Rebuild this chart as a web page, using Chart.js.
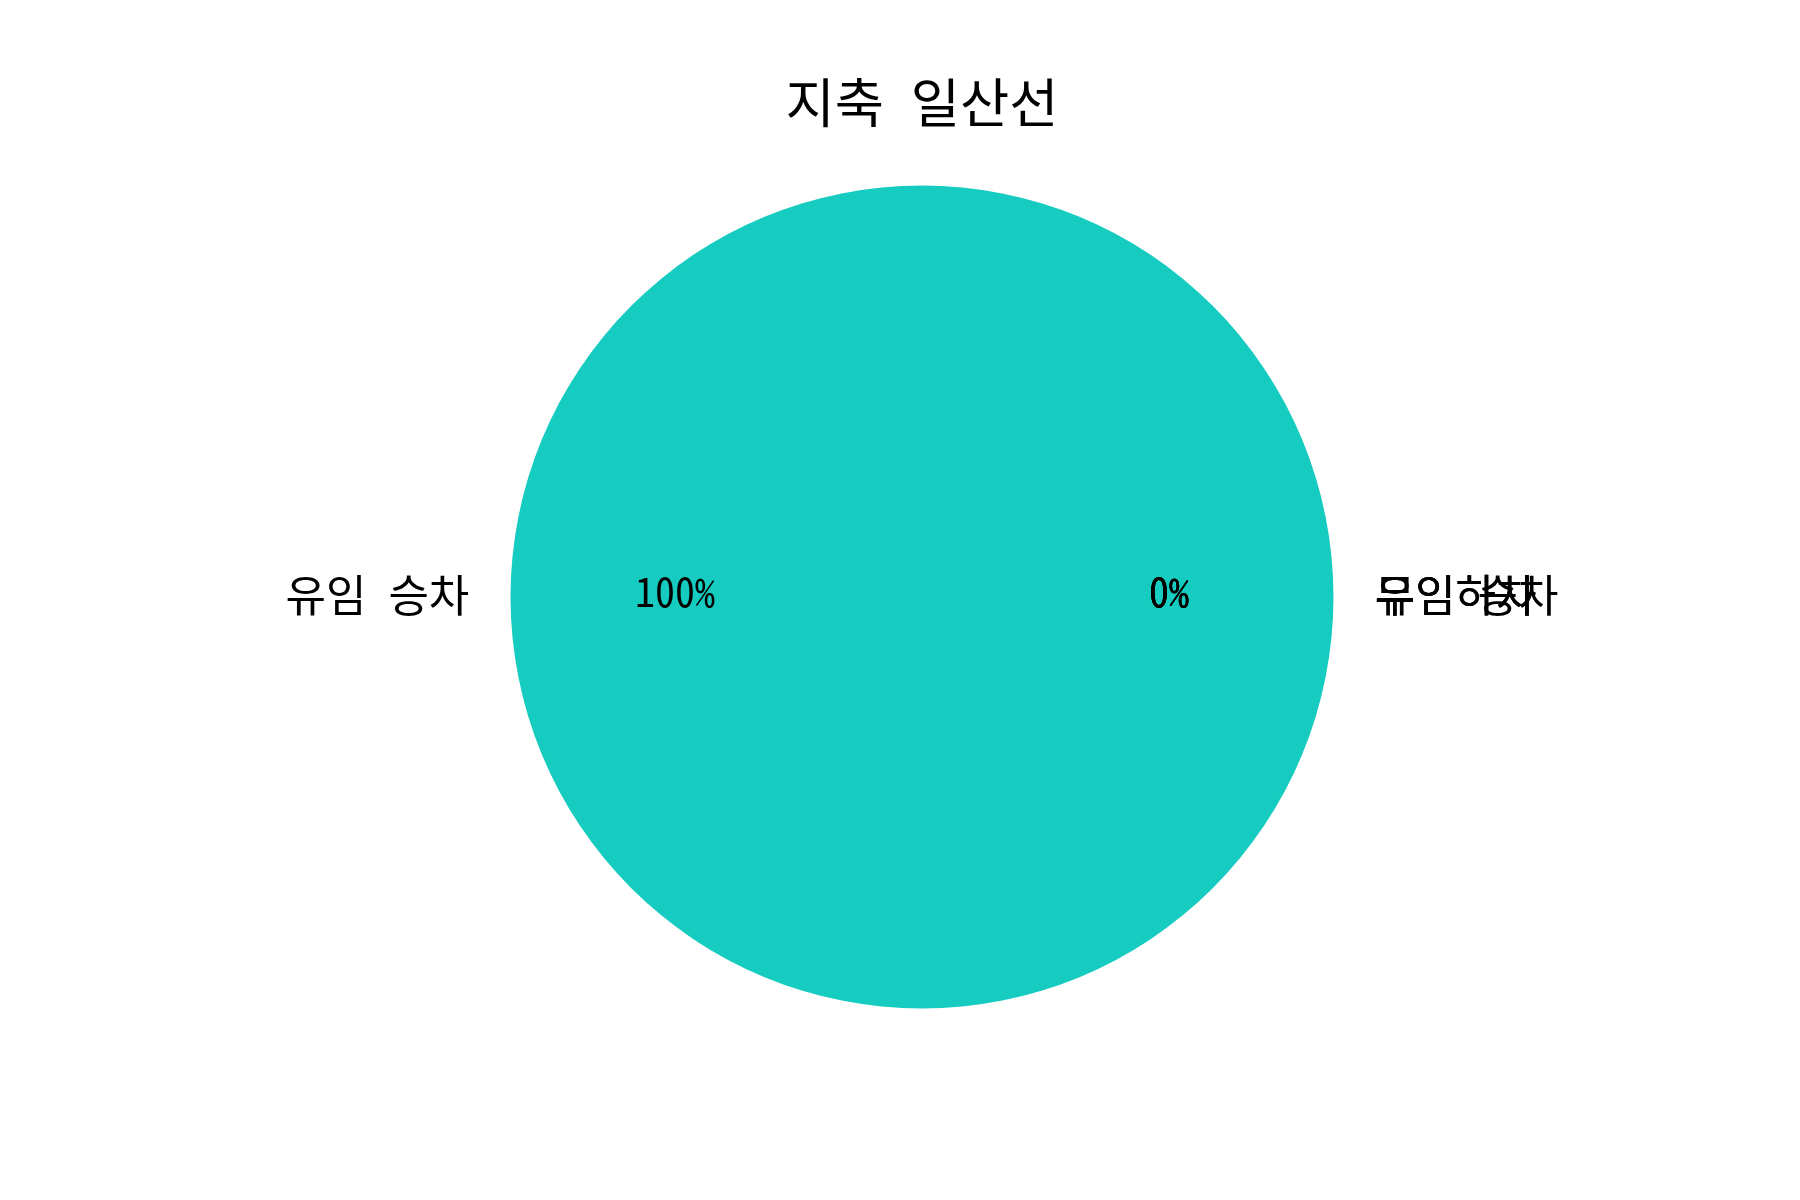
<!DOCTYPE html>
<html><head><meta charset="utf-8">
<script src="https://cdn.jsdelivr.net/npm/chart.js@4/dist/chart.umd.min.js"></script>
<style>html,body{margin:0;padding:0;background:#fff}#wrap{width:1800px;height:1200px}</style>
</head><body><div id="wrap"><canvas id="c" width="1800" height="1200"></canvas></div>
<script>
const titleText = '지축 일산선';
const categories = ['유임 승차', '유임하차', '무임 승차', '무임하차'];
const values = [100, 0, 0, 0];
const sliceColors = ['#16CCC0', '#F2A93B', '#6A7FDB', '#E85D75'];

const monoFamily = "'Noto Sans Mono CJK KR', 'Noto Sans CJK KR', monospace";
const labelFont = "44px " + monoFamily;
const pctFont = "40px " + monoFamily;

const pieLabels = {
  id: 'pieLabels',
  afterDatasetsDraw(chart) {
    const ctx = chart.ctx;
    const meta = chart.getDatasetMeta(0);
    const data = chart.data.datasets[0].data;
    const total = data.reduce((a, b) => a + b, 0);
    ctx.save();
    ctx.fillStyle = '#000';
    ctx.textBaseline = 'middle';
    meta.data.forEach((arc, i) => {
      const p = arc.getProps(['x', 'y', 'startAngle', 'endAngle', 'outerRadius'], true);
      const mid = (p.startAngle + p.endAngle) / 2;
      const c = Math.cos(mid), s = Math.sin(mid);
      ctx.font = labelFont;
      ctx.textAlign = c >= 0 ? 'left' : 'right';
      ctx.fillText(chart.data.labels[i], p.x + c * p.outerRadius * 1.1, p.y + s * p.outerRadius * 1.1 - 2);
      ctx.font = pctFont;
      ctx.textAlign = 'center';
      const pct = Math.round(data[i] / total * 100) + '%';
      ctx.fillText(pct, p.x + c * p.outerRadius * 0.6, p.y + s * p.outerRadius * 0.6 - 5);
    });
    ctx.restore();
  }
};

new Chart(document.getElementById('c'), {
  type: 'pie',
  data: {
    labels: categories,
    datasets: [{
      data: values,
      backgroundColor: sliceColors,
      borderWidth: 0
    }]
  },
  options: {
    responsive: false,
    animation: false,
    devicePixelRatio: 1,
    rotation: 90,
    layout: { padding: { left: 510.5, right: 466.5, top: 0, bottom: 191.5 } },
    plugins: {
      legend: { display: false },
      tooltip: { enabled: false },
      title: {
        display: true,
        text: titleText,
        color: '#000',
        font: { family: monoFamily, size: 53.5, weight: 'normal' },
        padding: { top: 70.4, bottom: 50.9 }
      }
    }
  },
  plugins: [pieLabels]
});
</script>
</body></html>
